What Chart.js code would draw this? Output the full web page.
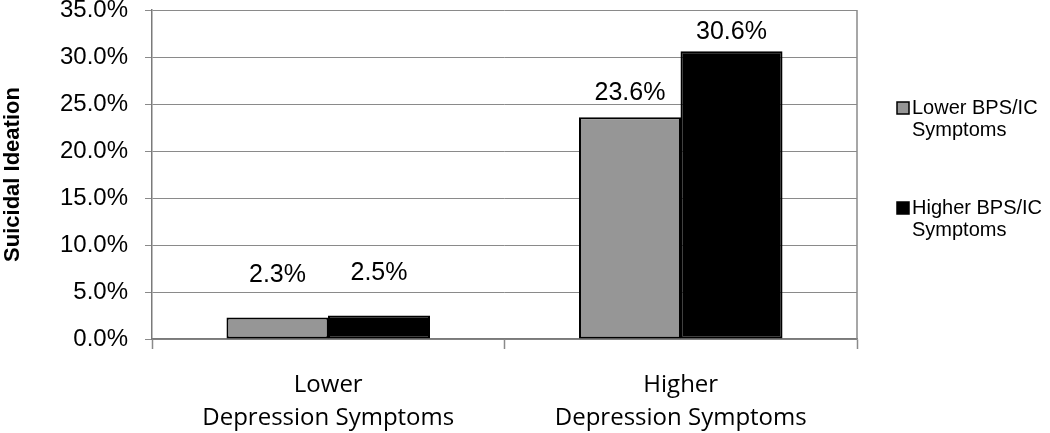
<!DOCTYPE html>
<html>
<head>
<meta charset="utf-8">
<script src="https://cdn.jsdelivr.net/npm/chart.js@4/dist/chart.umd.min.js"></script>
<style>
  html, body { margin: 0; padding: 0; background: #fff; }
  #wrap { width: 1050px; height: 433px; }
</style>
</head>
<body>
<div id="wrap"><canvas id="c" width="1050" height="433"></canvas></div>
<script>
const categories = [['Lower', 'Depression Symptoms'], ['Higher', 'Depression Symptoms']];
const seriesNames = [['Lower BPS/IC', 'Symptoms'], ['Higher BPS/IC', 'Symptoms']];
const lowerBps = [2.3, 23.6];
const higherBps = [2.5, 30.6];
const yAxisTitle = 'Suicidal Ideation';
const yMin = 0, yMax = 35, yStep = 5;

const GRID = '#8a8a8a';

const plotFrame = {
  id: 'plotFrame',
  afterDraw(chart) {
    const { ctx, chartArea } = chart;
    ctx.save();
    ctx.strokeStyle = GRID;
    ctx.lineWidth = 1.5;
    ctx.beginPath();
    ctx.moveTo(chartArea.right, chartArea.top);
    ctx.lineTo(chartArea.right, chartArea.bottom);
    ctx.stroke();
    ctx.restore();
  }
};

const valueLabels = {
  id: 'valueLabels',
  afterDatasetsDraw(chart, args, opts) {
    const { ctx } = chart;
    ctx.save();
    ctx.font = opts.font;
    ctx.fillStyle = '#000';
    ctx.textAlign = 'center';
    ctx.textBaseline = 'middle';
    chart.data.datasets.forEach((ds, di) => {
      chart.getDatasetMeta(di).data.forEach((bar, i) => {
        const off = opts.offsets[di][i];
        ctx.fillText(ds.data[i].toFixed(1) + '%', bar.x, bar.y - off);
      });
    });
    ctx.restore();
  }
};

const sideLegend = {
  id: 'sideLegend',
  afterDraw(chart, args, opts) {
    const { ctx } = chart;
    ctx.save();
    ctx.font = opts.font;
    ctx.textBaseline = 'middle';
    ctx.textAlign = 'left';
    chart.data.datasets.forEach((ds, di) => {
      const y = opts.y[di];
      const s = opts.box;
      ctx.fillStyle = ds.backgroundColor;
      ctx.fillRect(opts.x, y - s / 2, s, s);
      ctx.strokeStyle = '#000';
      ctx.lineWidth = 1.5;
      ctx.strokeRect(opts.x, y - s / 2, s, s);
      ctx.fillStyle = '#000';
      ds.label.forEach((line, li) => {
        ctx.fillText(line, opts.x + s + 3, y + li * opts.lineGap);
      });
    });
    ctx.restore();
  }
};

new Chart(document.getElementById('c'), {
  type: 'bar',
  data: {
    labels: categories,
    datasets: [
      { label: seriesNames[0], data: lowerBps, backgroundColor: '#969696', borderColor: '#000', borderWidth: 2, borderSkipped: false },
      { label: seriesNames[1], data: higherBps, backgroundColor: '#000000', borderColor: '#000', borderWidth: 2, borderSkipped: false }
    ]
  },
  options: {
    responsive: false,
    animation: false,
    devicePixelRatio: 1,
    layout: { padding: { left: 0, right: 193, top: 10, bottom: 0 } },
    datasets: { bar: { categoryPercentage: 0.576, barPercentage: 1.005 } },
    plugins: {
      legend: { display: false },
      tooltip: { enabled: false },
      valueLabels: { font: '25px "Liberation Sans", Arial, sans-serif', offsets: [[42, 24], [42, 19]] },
      sideLegend: { font: '20px "Liberation Sans", Arial, sans-serif', x: 897, y: [108, 208], box: 12, lineGap: 22 }
    },
    scales: {
      x: {
        offset: true,
        grid: { offset: true, drawOnChartArea: false, drawTicks: true, tickLength: 10, tickColor: GRID, tickWidth: 1.5 },
        border: { display: true, color: '#7a7a7a', width: 1.5 },
        ticks: {
          color: '#000',
          padding: 20,
          maxRotation: 0,
          font: { family: '"Open Sans", sans-serif', size: 24, lineHeight: 1.375 }
        },
        afterFit(scale) { scale.height = 94; scale.paddingLeft = 0; scale.paddingRight = 0; }
      },
      y: {
        min: yMin, max: yMax,
        ticks: {
          stepSize: yStep,
          color: '#000',
          padding: 17,
          font: { family: '"Liberation Sans", Arial, sans-serif', size: 24 },
          callback: v => v.toFixed(1) + '%'
        },
        grid: { color: GRID, lineWidth: 1, tickLength: 7, tickColor: GRID },
        border: { display: true, color: '#7a7a7a', width: 1.5 },
        title: {
          display: true,
          text: yAxisTitle,
          color: '#000',
          padding: { top: 0, bottom: 0 },
          font: { family: '"Liberation Sans", Arial, sans-serif', size: 22, weight: 'bold' }
        },
        afterFit(scale) { scale.width = 152; scale.paddingTop = 0; scale.paddingBottom = 0; }
      }
    }
  },
  plugins: [plotFrame, valueLabels, sideLegend]
});
</script>
</body>
</html>
